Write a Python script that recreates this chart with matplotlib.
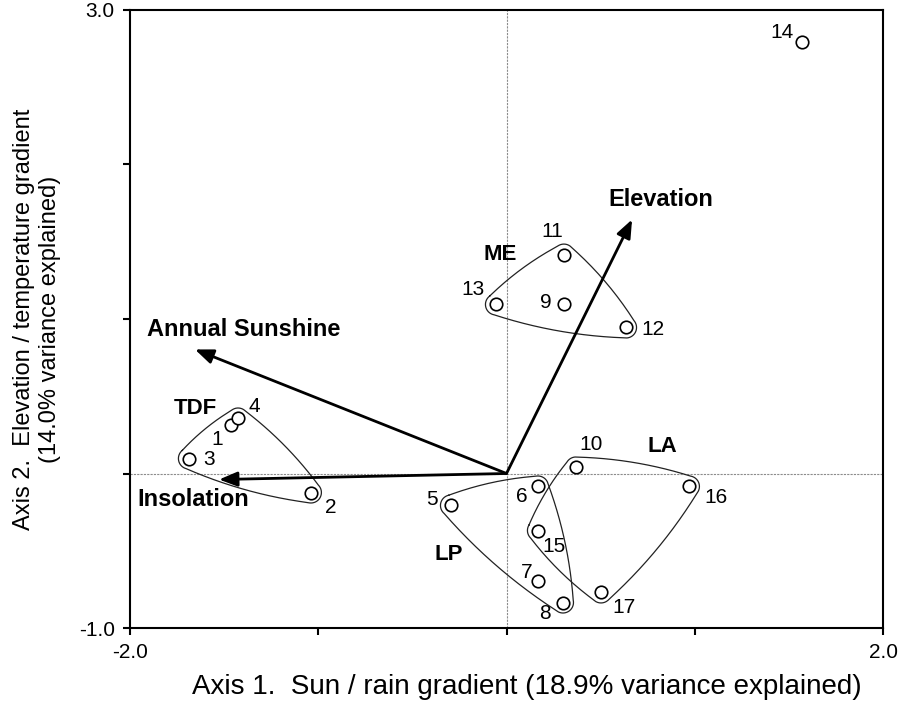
import numpy as np
import matplotlib
matplotlib.use("Agg")
import matplotlib.pyplot as plt

plt.rcParams['font.family'] = ['Liberation Sans', 'DejaVu Sans']

# ---- data ----
site_ids = ["1", "2", "3", "4", "5", "6", "7", "8", "9", "10", "11", "12", "13", "14", "15", "16", "17"]
axis1 = [-1.463, -1.039, -1.687, -1.426, -0.295, 0.167, 0.167, 0.300, 0.305, 0.369, 0.305, 0.635, -0.056, 1.570, 0.167, 0.969, 0.502]
axis2 = [0.311, -0.123, 0.097, 0.356, -0.207, -0.084, -0.693, -0.835, 1.094, 0.039, 1.417, 0.945, 1.094, 2.796, -0.369, -0.084, -0.770]

groups = ["TDF", "ME", "LA", "LP"]
group_members = [["1", "2", "3", "4"], ["9", "11", "12", "13"], ["10", "15", "16", "17"], ["5", "6", "7", "8"]]

vectors = ["Elevation", "Annual Sunshine", "Insolation"]
vec_x = [0.667, -1.655, -1.527]
vec_y = [1.644, 0.803, -0.039]

xticks = [-2, -1, 0, 1, 2]
xticklabels = ["-2.0", "", "", "", "2.0"]
yticks = [-1, 0, 1, 2, 3]
yticklabels = ["-1.0", "", "", "", "3.0"]

# ---- label offsets (pixels, right / down) ----
lab_off = {"14": (-20, -9), "11": (-12, -23), "13": (-23, -15), "9": (-18, -2),
           "12": (27, 2), "4": (16, -12), "1": (-14, 14), "3": (20, 1),
           "2": (20, 15), "10": (15, -23), "16": (27, 11), "6": (-16, 10),
           "5": (-19, -6), "15": (16, 16), "7": (-11, -8), "8": (-18, 11),
           "17": (23, 15)}
group_pos = {"TDF": (195, 408), "ME": (500, 254), "LA": (662, 446), "LP": (449, 554)}
vec_label_pos = {"Elevation": (661, 199), "Annual Sunshine": (244, 329), "Insolation": (193, 500)}

W, H = 902, 726
fig = plt.figure(figsize=(W / 100, H / 100), dpi=100)
ax = fig.add_axes([130 / W, (H - 628) / H, 753 / W, 618 / H])
ax.set_xlim(-2, 2)
ax.set_ylim(-1, 3)

for s in ax.spines.values():
    s.set_linewidth(1.5)
ax.set_xticks(xticks)
ax.set_xticklabels(xticklabels)
ax.set_yticks(yticks)
ax.set_yticklabels(yticklabels)
ax.tick_params(direction='out', length=5, width=1.5, labelsize=15, pad=6)

ax.axhline(0, color='#8c8c8c', lw=0.8, ls=(0, (2, 1)), zorder=1)
ax.axvline(0, color='#8c8c8c', lw=0.8, ls=(0, (2, 1)), zorder=1)

# points
ax.plot(axis1, axis2, 'o', ms=9, mfc='white', mec='black', mew=1.2, zorder=4, ls='none')

def px_to_fig(p):
    return (p[0] / W, 1 - p[1] / H)

for sid, x, y in zip(site_ids, axis1, axis2):
    dx, dy = lab_off[sid]
    ax.annotate(sid, (x, y), xytext=(dx * 0.72, -dy * 0.72), textcoords='offset points',
                ha='center', va='center', fontsize=15, zorder=5)

# rounded, slightly bulging convex hulls
def convex_hull(pts):
    pts = sorted(map(tuple, pts))
    def cross(o, a, b):
        return (a[0] - o[0]) * (b[1] - o[1]) - (a[1] - o[1]) * (b[0] - o[0])
    lower, upper = [], []
    for p in pts:
        while len(lower) >= 2 and cross(lower[-2], lower[-1], p) <= 0:
            lower.pop()
        lower.append(p)
    for p in reversed(pts):
        while len(upper) >= 2 and cross(upper[-2], upper[-1], p) <= 0:
            upper.pop()
        upper.append(p)
    return np.array(lower[:-1] + upper[:-1])

def rounded_hull(disp, r=10.5, sag=0.035):
    hv = convex_hull(disp)
    n = len(hv)
    normals = []
    for i in range(n):
        a, b = hv[i], hv[(i + 1) % n]
        d = b - a
        L = np.hypot(*d)
        normals.append(np.array([d[1], -d[0]]) / L)
    out = []
    for i in range(n):
        n_prev = normals[i - 1]
        n_next = normals[i]
        a0 = np.arctan2(n_prev[1], n_prev[0])
        a1 = np.arctan2(n_next[1], n_next[0])
        while a1 < a0:
            a1 += 2 * np.pi
        for a in np.linspace(a0, a1, 20):
            out.append(hv[i] + r * np.array([np.cos(a), np.sin(a)]))
        A, B = hv[i], hv[(i + 1) % n]
        L = np.hypot(*(B - A))
        for t in np.linspace(0, 1, 40)[1:-1]:
            off = r + sag * L * 4 * t * (1 - t)
            out.append(A + t * (B - A) + normals[i] * off)
    out.append(out[0])
    return np.array(out)

idx = {s: i for i, s in enumerate(site_ids)}
for g, members in zip(groups, group_members):
    data_pts = np.array([[axis1[idx[m]], axis2[idx[m]]] for m in members])
    disp = ax.transData.transform(data_pts)
    hull = rounded_hull(disp)
    hull_data = ax.transData.inverted().transform(hull)
    ax.plot(hull_data[:, 0], hull_data[:, 1], color='#222222', lw=0.9, zorder=3)
    fx, fy = px_to_fig(group_pos[g])
    fig.text(fx, fy, g, ha='center', va='center', fontsize=16, fontweight='bold')

# vectors
for v, vx, vy in zip(vectors, vec_x, vec_y):
    ax.annotate("", xy=(vx, vy), xytext=(0, 0),
                arrowprops=dict(arrowstyle='-|>,head_length=0.5,head_width=0.2',
                                mutation_scale=22, lw=2.0, color='black',
                                shrinkA=0, shrinkB=0), zorder=6)
    fx, fy = px_to_fig(vec_label_pos[v])
    fig.text(fx, fy, v, ha='center', va='center', fontsize=17, fontweight='bold')

# axis titles
fig.text(527 / W, 1 - 687 / H, "Axis 1.  Sun / rain gradient (18.9% variance explained)",
         ha='center', va='center', fontsize=20)
fig.text(37 / W, 1 - 319 / H, "Axis 2.  Elevation / temperature gradient\n(14.0% variance explained)",
         ha='center', va='center', rotation=90, fontsize=17, multialignment='center',
         linespacing=1.25)

fig.savefig("out.png", dpi=100)
